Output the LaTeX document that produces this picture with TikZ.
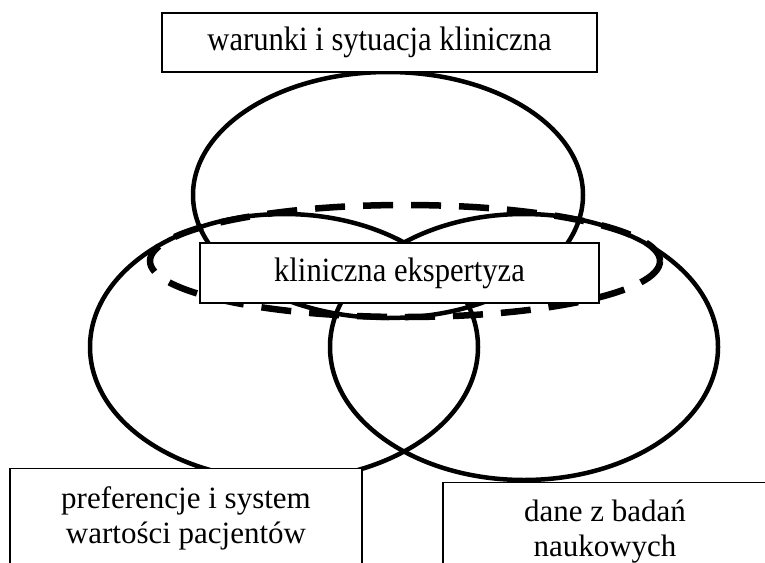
\documentclass[tikz,border=0pt]{standalone}
\usepackage{fontspec}
\setmainfont{Liberation Serif}
\newfontfamily\tallfont[FakeStretch=0.9]{Liberation Serif}
\tikzset{
  circ/.style={draw=black, line width=4.5pt},
  dashring/.style={draw=black, line width=6.5pt, dash pattern=on 30pt off 18pt},
  box/.style={draw=black, fill=white, line width=1.3pt, rectangle, inner xsep=0pt, align=center},
  tallbox/.style={box, inner ysep=0pt, font=\tallfont\fontsize{34}{38}\selectfont},
  lowbox/.style={box, anchor=north, font=\fontsize{31}{35}\selectfont, text depth=80pt},
}
\begin{document}
\begin{tikzpicture}[x=1pt,y=-1pt]
\clip (0,0) rectangle (765,562);
\fill[white] (0,0) rectangle (765,562);
% circles
\draw[circ] (388,195) ellipse [x radius=195, y radius=123];
\draw[circ] (284,347) ellipse [x radius=194, y radius=133];
\draw[circ] (524,347) ellipse [x radius=194, y radius=133];
\draw[dashring] (405,261) ellipse [x radius=255, y radius=56];
% boxes
\node[tallbox, minimum width=435pt, minimum height=59pt] (warunki) at (379.5,42.5) {warunki i sytuacja kliniczna};
\node[tallbox, minimum width=399pt, minimum height=60pt] (ekspert) at (399.5,273) {kliniczna ekspertyza};
\node[lowbox, minimum width=352pt, inner ysep=18pt] (pref) at (186,468) {preferencje i system\\wartości pacjentów};
\node[lowbox, minimum width=324pt, inner ysep=16.8pt] (dane) at (605,482) {dane z badań\\naukowych};
\end{tikzpicture}
\end{document}
